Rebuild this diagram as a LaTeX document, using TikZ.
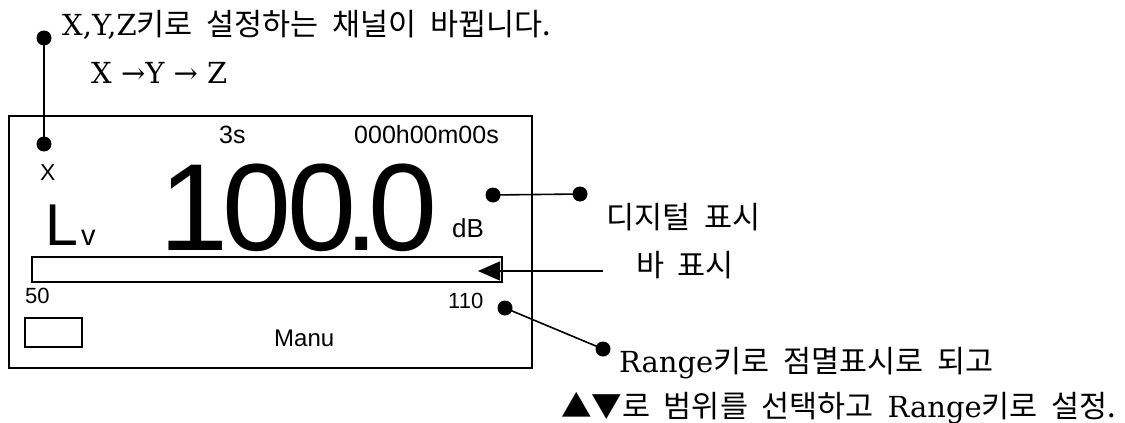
\documentclass[tikz,border=0pt]{standalone}
\usepackage{fontspec}
\setmainfont{DejaVu Serif}
\newfontfamily\kr{Noto Sans CJK KR}[WordSpace=2]
\newfontfamily\hv{Liberation Sans}
\usetikzlibrary{arrows.meta}
\newcommand\fsz[1]{\fontsize{#1}{#1}\selectfont}
\newcommand\K[1]{{\kr\fsz{30.5}#1}}
\begin{document}
\begin{tikzpicture}[x=1pt,y=-1pt,
  blob/.style={circle,fill=black,inner sep=0pt,minimum size=15pt},
  lbl/.style={anchor=base west,inner sep=0pt},
  lblr/.style={anchor=base east,inner sep=0pt},
  note/.style={lbl,font=\fsz{29}},
  ln/.style={line width=1.6pt,line cap=round}]
\useasboundingbox (0,0) rectangle (1125,423);
\fill[white] (0,0) rectangle (1125,423);

% display frame
\draw[ln] (9,116) rectangle (532,368);
\draw[line width=1.4pt] (32,257) rectangle (502,282);
\draw[line width=1.4pt] (25,318) rectangle (82,347);

% LCD texts
\node[lbl,font=\hv\fsz{23}] (chx) at (40,180) {X};
\node[lbl,font=\hv\fsz{25}] (avg) at (219,143) {3s};
\node[lblr,font=\hv\fsz{25}] (time) at (499,143) {000h00m00s};
\node[lbl,font=\hv\fsz{59}] (lv) at (45,245) {L\kern3pt{\fsz{29}v}};
\node[lbl,font=\hv\fsz{124}] (big) at (159.5,250) {1\kern-6pt0\kern-4pt0\kern-12pt.\kern-11pt0};
\node[lbl,font=\hv\fsz{26}] (db) at (452,237) {dB};
\node[lbl,font=\hv\fsz{22}] (lo) at (25,303) {50};
\node[lbl,font=\hv\fsz{22}] (hi) at (448,308) {110};
\node[lbl,font=\hv\fsz{24}] (manu) at (274,346) {Manu};

% annotations
\node[note] (t1) at (62,35) {X,Y,Z\K{키로 설정하는 채널이 바뀝니다.}};
\node[note] (t2) at (91,83) {X →Y → Z};
\node[note] (t3) at (606,228) {\K{디지털 표시}};
\node[note] (t4) at (636,276) {\K{바 표시}};
\node[note] (t5) at (619,372) {Range\K{키로 점멸표시로 되고}};
\node[note] (t6) at (561,417) {\K{▲▼로 범위를 선택하고 }Range\K{키로 설정.}};

% connectors
\coordinate (p1) at (44,38);
\coordinate (p2) at (44,144);
\coordinate (p3) at (493,195);
\coordinate (p4) at (580,194);
\coordinate (p5) at (505,308);
\coordinate (p6) at (603,349);
\coordinate (barfrom) at (603,271);
\coordinate (bartip) at (478,271);
\draw[ln] (p1) -- (p2);
\draw[ln] (p3) -- (p4);
\draw[ln] (p5) -- (p6);
\draw[ln,line cap=butt,-{Triangle[length=22pt,width=19pt]}] (barfrom) -- (bartip);
\node[blob] (d1) at (p1) {};
\node[blob] (d2) at (p2) {};
\node[blob] (d3) at (p3) {};
\node[blob] (d4) at (p4) {};
\node[blob] (d5) at (p5) {};
\node[blob] (d6) at (p6) {};
\end{tikzpicture}
\end{document}
